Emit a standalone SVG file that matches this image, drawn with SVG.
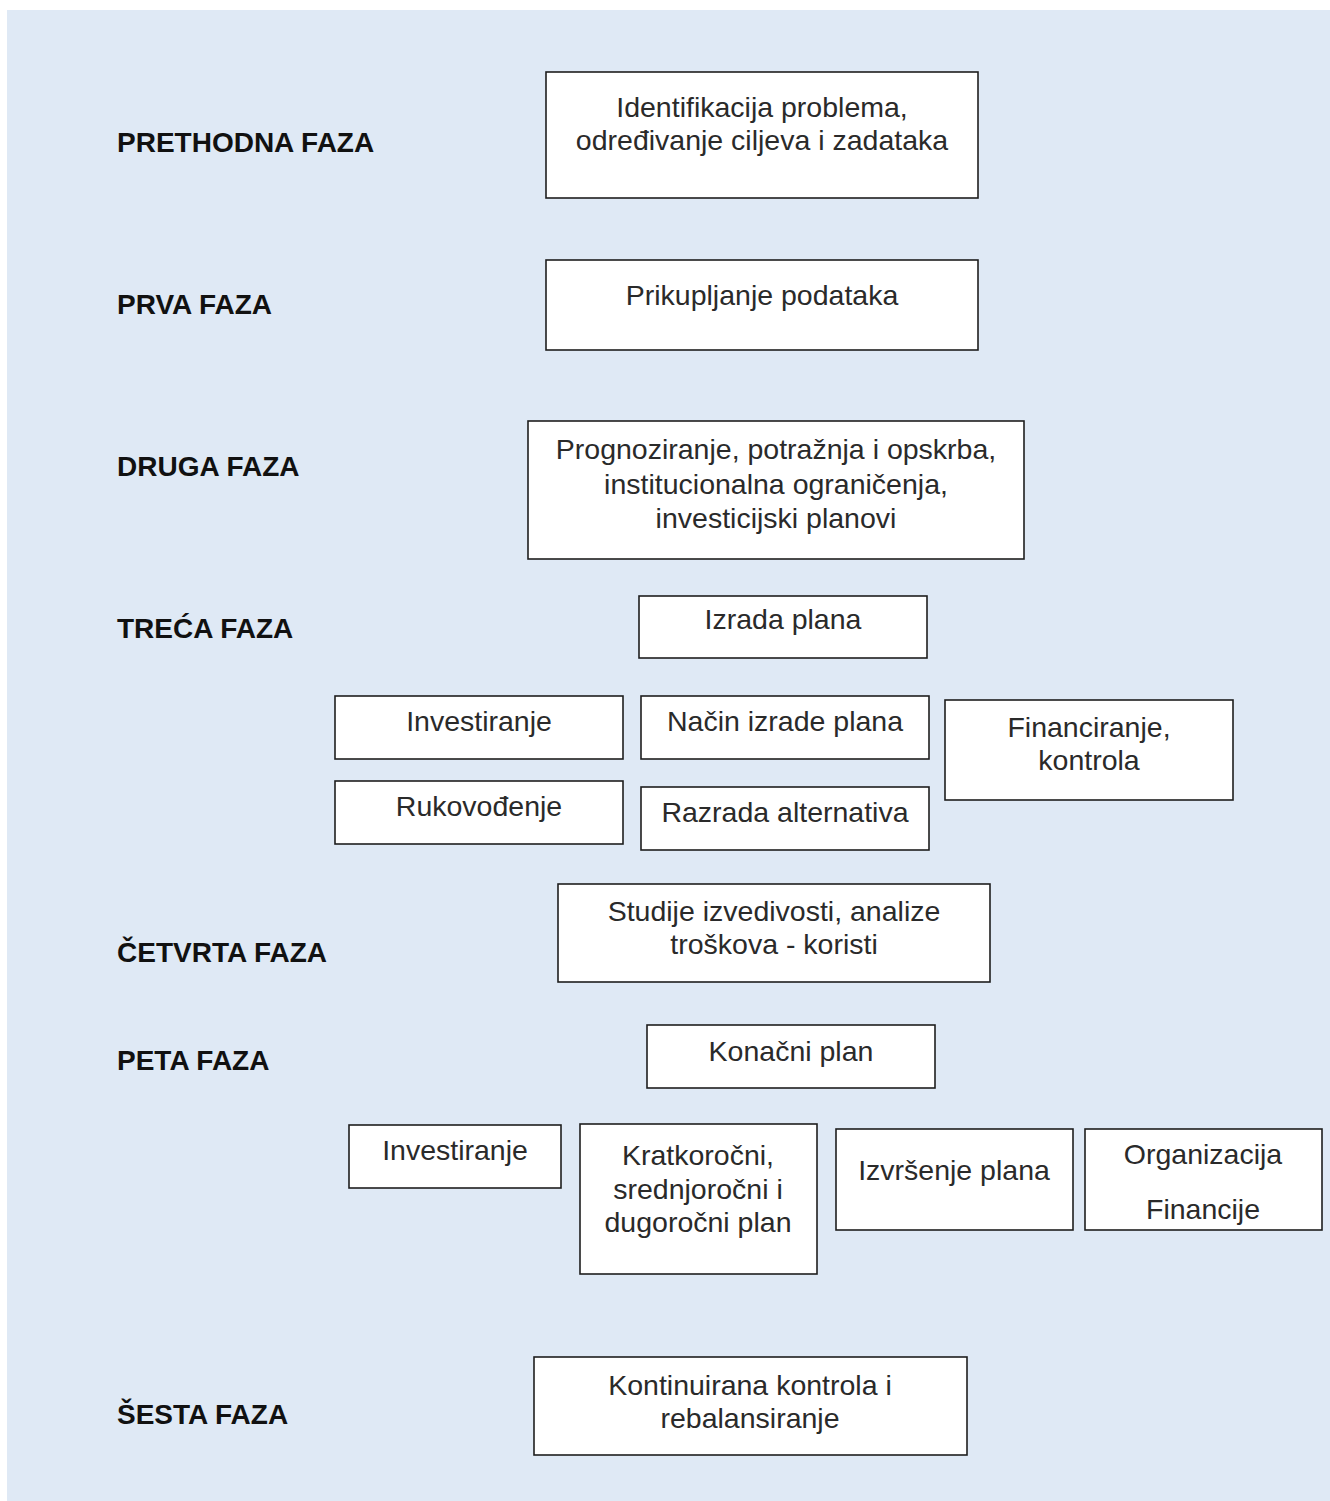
<svg xmlns="http://www.w3.org/2000/svg" width="1330" height="1501" viewBox="0 0 1330 1501">
<style>
.bg{fill:#dfe9f5}
.box{fill:#ffffff;stroke:#1e1e1e;stroke-width:1.6}
.t{font-family:"Liberation Sans",Arial,sans-serif;font-size:28.5px;fill:#2a2a2a;text-anchor:middle}
.lbl{font-family:"Liberation Sans",Arial,sans-serif;font-size:28px;font-weight:bold;fill:#111}
</style>
<rect x="0" y="0" width="1330" height="1501" fill="#ffffff"/>
<rect class="bg" x="7" y="10" width="1323" height="1491"/>
<g id="labels">
<text class="lbl" x="117" y="152">PRETHODNA FAZA</text>
<text class="lbl" x="117" y="314">PRVA FAZA</text>
<text class="lbl" x="117" y="476">DRUGA FAZA</text>
<text class="lbl" x="117" y="638">TREĆA FAZA</text>
<text class="lbl" x="117" y="962">ČETVRTA FAZA</text>
<text class="lbl" x="117" y="1070">PETA FAZA</text>
<text class="lbl" x="117" y="1424">ŠESTA FAZA</text>
</g>
<g id="n1"><rect class="box" x="546" y="72" width="432" height="126"/><text class="t" x="762" y="117">Identifikacija problema,</text><text class="t" x="762" y="150">određivanje ciljeva i zadataka</text></g>
<g id="n2"><rect class="box" x="546" y="260" width="432" height="90"/><text class="t" x="762" y="305">Prikupljanje podataka</text></g>
<g id="n3"><rect class="box" x="528" y="421" width="496" height="138"/><text class="t" x="776" y="459">Prognoziranje, potražnja i opskrba,</text><text class="t" x="776" y="494">institucionalna ograničenja,</text><text class="t" x="776" y="528">investicijski planovi</text></g>
<g id="n4"><rect class="box" x="639" y="596" width="288" height="62"/><text class="t" x="783" y="629">Izrada plana</text></g>
<g id="n5"><rect class="box" x="335" y="696" width="288" height="63"/><text class="t" x="479" y="731">Investiranje</text></g>
<g id="n6"><rect class="box" x="641" y="696" width="288" height="63"/><text class="t" x="785" y="731">Način izrade plana</text></g>
<g id="n7"><rect class="box" x="945" y="700" width="288" height="100"/><text class="t" x="1089" y="737">Financiranje,</text><text class="t" x="1089" y="770">kontrola</text></g>
<g id="n8"><rect class="box" x="335" y="781" width="288" height="63"/><text class="t" x="479" y="816">Rukovođenje</text></g>
<g id="n9"><rect class="box" x="641" y="787" width="288" height="63"/><text class="t" x="785" y="822">Razrada alternativa</text></g>
<g id="n10"><rect class="box" x="558" y="884" width="432" height="98"/><text class="t" x="774" y="921">Studije izvedivosti, analize</text><text class="t" x="774" y="954">troškova - koristi</text></g>
<g id="n11"><rect class="box" x="647" y="1025" width="288" height="63"/><text class="t" x="791" y="1061">Konačni plan</text></g>
<g id="n12"><rect class="box" x="349" y="1125" width="212" height="63"/><text class="t" x="455" y="1160">Investiranje</text></g>
<g id="n13"><rect class="box" x="580" y="1124" width="237" height="150"/><text class="t" x="698" y="1165">Kratkoročni,</text><text class="t" x="698" y="1199">srednjoročni i</text><text class="t" x="698" y="1232">dugoročni plan</text></g>
<g id="n14"><rect class="box" x="836" y="1129" width="237" height="101"/><text class="t" x="954" y="1180">Izvršenje plana</text></g>
<g id="n15"><rect class="box" x="1085" y="1129" width="237" height="101"/><text class="t" x="1203" y="1164">Organizacija</text><text class="t" x="1203" y="1219">Financije</text></g>
<g id="n16"><rect class="box" x="534" y="1357" width="433" height="98"/><text class="t" x="750" y="1395">Kontinuirana kontrola i</text><text class="t" x="750" y="1428">rebalansiranje</text></g>
<g id="connectors"></g>
</svg>
